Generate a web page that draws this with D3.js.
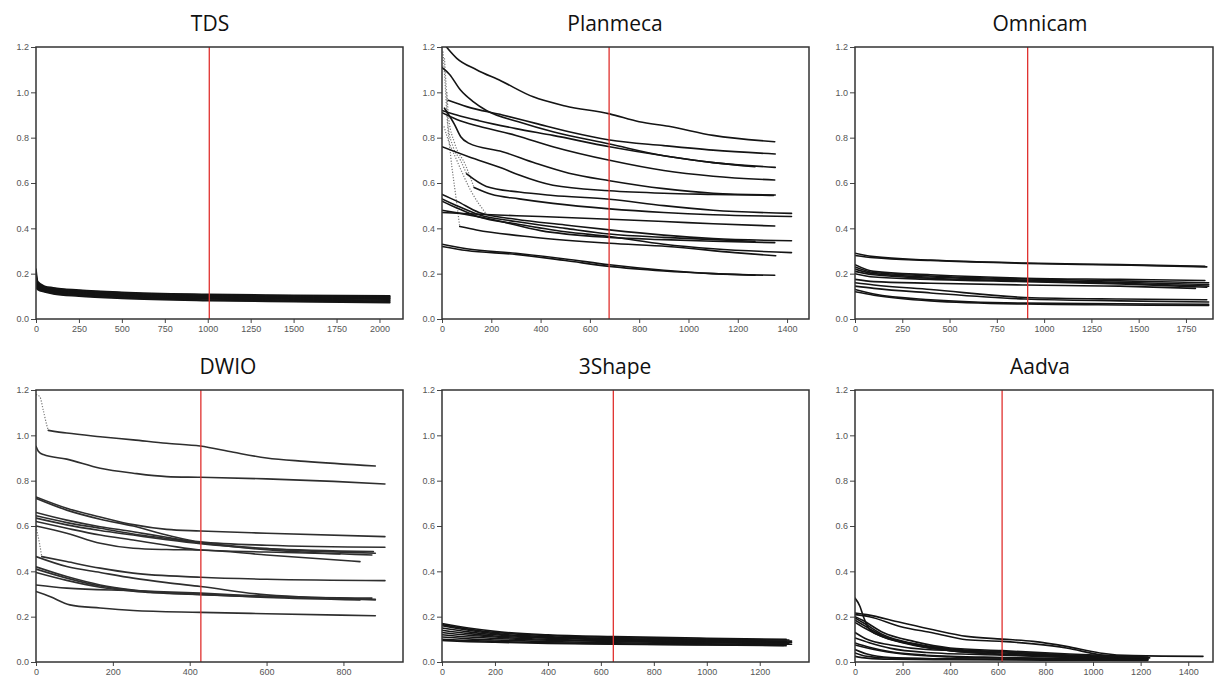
<!DOCTYPE html>
<html>
<head>
<meta charset="utf-8">
<script src="https://cdn.jsdelivr.net/npm/d3@7"></script>
<style>
  body { margin: 0; background: #fff; }
  .tick text { font-family: "Liberation Sans", Arial, sans-serif; font-size: 9px; fill: #555; }
  .tick line { stroke: #444; }
  .title { font-family: "Open Sans", "Noto Sans", sans-serif; font-size: 21px; fill: #111; }
</style>
</head>
<body>
<div id="chart"></div>
<script>
// ---- data: each line is a list of [time, value] points ----
const yTicks = [0, 0.2, 0.4, 0.6, 0.8, 1.0, 1.2];

const tdsTicks = [0, 250, 500, 750, 1000, 1250, 1500, 1750, 2000];
const tdsLines = [
  [[0,0.22],[10,0.165],[50,0.145],[100,0.138],[250,0.128],[500,0.118],[1000,0.109],[1500,0.105],[2060,0.102]],
  [[0,0.2],[10,0.16],[50,0.142],[100,0.135],[250,0.125],[500,0.115],[1000,0.106],[1500,0.102],[2060,0.099]],
  [[0,0.19],[10,0.155],[50,0.14],[100,0.132],[250,0.122],[500,0.112],[1000,0.103],[1500,0.099],[2060,0.096]],
  [[0,0.18],[10,0.15],[50,0.137],[100,0.129],[250,0.119],[500,0.109],[1000,0.1],[1500,0.096],[2060,0.093]],
  [[0,0.17],[10,0.146],[50,0.134],[100,0.126],[250,0.116],[500,0.106],[1000,0.097],[1500,0.093],[2060,0.09]],
  [[0,0.16],[10,0.142],[50,0.131],[100,0.123],[250,0.113],[500,0.103],[1000,0.094],[1500,0.09],[2060,0.087]],
  [[0,0.155],[10,0.139],[50,0.128],[100,0.12],[250,0.11],[500,0.1],[1000,0.091],[1500,0.087],[2060,0.083]],
  [[0,0.15],[10,0.136],[50,0.125],[100,0.117],[250,0.107],[500,0.097],[1000,0.088],[1500,0.083],[2060,0.079]],
  [[0,0.145],[10,0.133],[50,0.122],[100,0.114],[250,0.104],[500,0.094],[1000,0.084],[1500,0.079],[2060,0.075]],
  [[0,0.14],[10,0.13],[50,0.119],[100,0.111],[250,0.101],[500,0.091],[1000,0.081],[1500,0.076],[2060,0.072]]
];
const tdsCutoff = 1009;

const planmecaTicks = [0, 200, 400, 600, 800, 1000, 1200, 1400];
const planmecaLines = [
  [[18,1.2],[60,1.15],[140,1.1],[240,1.05],[370,0.98],[500,0.94],[680,0.905],[800,0.87],[920,0.85],[1100,0.81],[1350,0.782]],
  [[0,1.11],[30,1.08],[75,1.01],[125,0.96],[180,0.92],[310,0.87],[450,0.826],[680,0.772],[900,0.72],[1100,0.69],[1270,0.672]],
  [[25,0.965],[100,0.937],[245,0.9],[380,0.863],[515,0.826],[680,0.79],[900,0.765],[1100,0.745],[1352,0.728]],
  [[0,0.92],[60,0.9],[150,0.875],[300,0.84],[450,0.81],[680,0.76],[900,0.72],[1100,0.69],[1352,0.669]],
  [[10,0.93],[50,0.86],[76,0.804],[108,0.776],[245,0.738],[380,0.687],[515,0.643],[680,0.61],[900,0.575],[1100,0.555],[1352,0.547]],
  [[0,0.91],[60,0.88],[150,0.85],[300,0.81],[450,0.76],[680,0.7],[900,0.655],[1100,0.63],[1350,0.613]],
  [[0,0.76],[108,0.716],[245,0.665],[313,0.635],[450,0.59],[680,0.566],[900,0.555],[1100,0.55],[1345,0.545]],
  [[100,0.64],[180,0.585],[313,0.56],[450,0.545],[680,0.528],[900,0.5],[1100,0.48],[1418,0.466]],
  [[130,0.58],[200,0.55],[313,0.53],[450,0.51],[680,0.486],[900,0.47],[1100,0.46],[1418,0.452]],
  [[0,0.47],[150,0.462],[400,0.452],[680,0.44],[900,0.43],[1100,0.42],[1350,0.41]],
  [[0,0.55],[60,0.52],[150,0.47],[300,0.44],[500,0.415],[680,0.393],[900,0.37],[1100,0.355],[1418,0.345]],
  [[0,0.53],[60,0.5],[150,0.46],[300,0.43],[500,0.4],[680,0.375],[900,0.36],[1100,0.35],[1270,0.343]],
  [[0,0.52],[60,0.49],[150,0.45],[300,0.42],[500,0.385],[680,0.364],[900,0.33],[1100,0.31],[1418,0.293]],
  [[0,0.48],[80,0.465],[200,0.44],[400,0.39],[680,0.36],[900,0.35],[1100,0.343],[1350,0.337]],
  [[72,0.408],[140,0.393],[371,0.361],[680,0.334],[916,0.32],[1188,0.293],[1354,0.279]],
  [[0,0.33],[100,0.31],[300,0.29],[500,0.265],[680,0.239],[900,0.215],[1100,0.2],[1350,0.193]],
  [[0,0.32],[100,0.302],[300,0.285],[500,0.258],[680,0.232],[900,0.212],[1100,0.2],[1270,0.193]]
];
const planmecaDotted = [
  [[4,1.18],[12,1.05],[20,0.9],[35,0.72],[55,0.55],[72,0.408]],
  [[10,1.15],[18,1.0],[25,0.85],[45,0.76],[75,0.7],[100,0.64]],
  [[20,1.0],[28,0.88],[50,0.78],[95,0.68],[130,0.58]],
  [[8,0.85],[22,0.8],[60,0.7],[120,0.56],[177,0.467]]
];
const planmecaCutoff = 678;

const omnicamTicks = [0, 250, 500, 750, 1000, 1250, 1500, 1750];
const omnicamLines = [
  [[0,0.29],[100,0.275],[400,0.26],[900,0.247],[1400,0.24],[1850,0.232]],
  [[0,0.28],[100,0.27],[400,0.258],[900,0.245],[1400,0.238],[1860,0.23]],
  [[0,0.24],[100,0.21],[400,0.195],[900,0.18],[1400,0.175],[1850,0.17]],
  [[0,0.23],[100,0.205],[400,0.19],[900,0.177],[1400,0.168],[1870,0.16]],
  [[0,0.22],[100,0.2],[400,0.185],[900,0.172],[1400,0.162],[1870,0.152]],
  [[0,0.21],[100,0.195],[400,0.18],[900,0.168],[1400,0.158],[1870,0.145]],
  [[0,0.2],[100,0.185],[400,0.175],[900,0.165],[1400,0.155],[1860,0.14]],
  [[0,0.175],[100,0.165],[400,0.158],[900,0.15],[1400,0.145],[1800,0.135]],
  [[0,0.16],[100,0.15],[400,0.13],[900,0.095],[1400,0.088],[1860,0.085]],
  [[0,0.145],[100,0.135],[400,0.115],[900,0.088],[1400,0.08],[1870,0.075]],
  [[0,0.13],[100,0.11],[400,0.085],[900,0.07],[1400,0.067],[1870,0.065]],
  [[0,0.12],[100,0.105],[400,0.08],[900,0.066],[1400,0.062],[1870,0.06]]
];
const omnicamCutoff = 913;

const dwioTicks = [0, 200, 400, 600, 800];
const dwioLines = [
  [[32,1.022],[80,1.01],[167,0.994],[253,0.98],[340,0.965],[427,0.953],[514,0.925],[600,0.9],[700,0.885],[883,0.865]],
  [[0,0.952],[6,0.93],[19,0.915],[80,0.895],[167,0.855],[253,0.833],[340,0.818],[427,0.815],[600,0.808],[774,0.797],[908,0.785]],
  [[0,0.728],[80,0.678],[167,0.64],[253,0.606],[340,0.585],[428,0.578],[600,0.568],[908,0.553]],
  [[0,0.722],[80,0.67],[167,0.63],[253,0.6],[340,0.56],[428,0.53],[600,0.515],[908,0.506]],
  [[0,0.66],[80,0.626],[167,0.597],[253,0.575],[340,0.55],[428,0.527],[600,0.5],[883,0.48]],
  [[0,0.645],[80,0.615],[167,0.59],[253,0.565],[340,0.545],[428,0.525],[600,0.495],[874,0.472]],
  [[0,0.635],[80,0.605],[167,0.58],[253,0.56],[340,0.54],[428,0.522],[600,0.5],[878,0.487]],
  [[0,0.62],[80,0.59],[167,0.56],[253,0.538],[340,0.515],[428,0.494],[600,0.485],[791,0.477]],
  [[0,0.6],[80,0.568],[167,0.524],[253,0.502],[340,0.496],[428,0.494],[600,0.472],[843,0.443]],
  [[15,0.465],[80,0.443],[167,0.414],[253,0.392],[428,0.374],[600,0.365],[908,0.359]],
  [[0,0.465],[80,0.421],[167,0.395],[253,0.37],[340,0.35],[428,0.333],[600,0.296],[883,0.277]],
  [[0,0.42],[80,0.377],[167,0.34],[253,0.318],[428,0.3],[600,0.289],[874,0.282]],
  [[0,0.41],[80,0.37],[167,0.335],[253,0.315],[428,0.298],[600,0.285],[843,0.274]],
  [[0,0.395],[80,0.36],[167,0.33],[253,0.312],[428,0.297],[600,0.287],[791,0.282]],
  [[0,0.34],[80,0.326],[253,0.315],[428,0.304],[600,0.29],[883,0.274]],
  [[0,0.311],[36,0.289],[88,0.252],[167,0.238],[253,0.227],[428,0.219],[600,0.213],[883,0.204]]
];
const dwioDotted = [
  [[0,1.18],[10,1.17],[19,1.11],[28,1.045],[32,1.022]],
  [[0,0.597],[9,0.524],[15,0.465]]
];
const dwioCutoff = 429;

const shapeTicks = [0, 200, 400, 600, 800, 1000, 1200];
const shapeLines = [
  [[0,0.17],[100,0.15],[200,0.135],[400,0.12],[650,0.112],[1000,0.105],[1300,0.1]],
  [[0,0.165],[100,0.145],[200,0.13],[400,0.117],[650,0.108],[1000,0.1],[1310,0.097]],
  [[0,0.16],[100,0.14],[200,0.125],[400,0.112],[650,0.104],[1000,0.097],[1320,0.092]],
  [[0,0.15],[100,0.133],[200,0.12],[400,0.108],[650,0.1],[1000,0.094],[1300,0.09]],
  [[0,0.14],[100,0.125],[200,0.115],[400,0.105],[650,0.097],[1000,0.09],[1320,0.086]],
  [[0,0.13],[100,0.118],[200,0.11],[400,0.1],[650,0.093],[1000,0.088],[1310,0.083]],
  [[0,0.12],[100,0.11],[200,0.104],[400,0.096],[650,0.09],[1000,0.085],[1300,0.08]],
  [[0,0.11],[100,0.102],[200,0.097],[400,0.09],[650,0.085],[1000,0.08],[1320,0.078]],
  [[0,0.1],[100,0.095],[200,0.091],[400,0.085],[650,0.08],[1000,0.076],[1290,0.073]],
  [[0,0.095],[100,0.09],[200,0.087],[400,0.082],[650,0.078],[1000,0.075],[1300,0.072]]
];
const shapeCutoff = 647;

const aadvaTicks = [0, 200, 400, 600, 800, 1000, 1200, 1400];
const aadvaLines = [
  [[0,0.216],[49,0.209],[189,0.175],[329,0.142],[469,0.113],[618,0.101],[748,0.091],[888,0.069],[1028,0.04],[1168,0.028],[1462,0.025]],
  [[0,0.209],[60,0.2],[189,0.157],[329,0.128],[469,0.098],[618,0.091],[750,0.08],[888,0.062],[1028,0.032],[1150,0.022],[1238,0.018]],
  [[0,0.282],[21,0.245],[35,0.201],[63,0.142],[120,0.11],[250,0.08],[400,0.058],[618,0.045],[900,0.03],[1211,0.02]],
  [[0,0.194],[40,0.17],[118,0.12],[250,0.08],[399,0.054],[618,0.04],[900,0.028],[1211,0.018]],
  [[0,0.185],[40,0.16],[118,0.115],[250,0.075],[399,0.05],[618,0.035],[900,0.025],[1230,0.015]],
  [[0,0.175],[40,0.15],[118,0.11],[250,0.073],[399,0.05],[618,0.033],[900,0.022],[1200,0.014]],
  [[0,0.2],[30,0.185],[118,0.13],[250,0.09],[399,0.062],[618,0.05],[900,0.035],[1230,0.022]],
  [[0,0.13],[50,0.1],[150,0.075],[300,0.055],[618,0.045],[900,0.03],[1230,0.018]],
  [[0,0.106],[60,0.085],[150,0.06],[300,0.042],[618,0.03],[900,0.02],[1230,0.012]],
  [[0,0.084],[60,0.065],[150,0.045],[300,0.03],[618,0.02],[900,0.015],[1210,0.01]],
  [[0,0.075],[80,0.055],[200,0.035],[400,0.022],[618,0.018],[900,0.014],[1230,0.012]],
  [[0,0.055],[50,0.035],[150,0.02],[400,0.014],[618,0.013],[900,0.012],[1230,0.01]],
  [[0,0.04],[50,0.025],[150,0.017],[400,0.013],[900,0.01],[1200,0.008]],
  [[0,0.025],[50,0.017],[150,0.012],[400,0.01],[900,0.008],[1230,0.007]]
];
const aadvaCutoff = 618;

// ---- layout ----
const width = 1216, height = 681;
const panels = [
  { title: "TDS",      lines: tdsLines,      dotted: [],             ticks: tdsTicks,      xMax: 2137, cutoff: tdsCutoff,      left: 36,  top: 47,  w: 367, titleX: 210 },
  { title: "Planmeca", lines: planmecaLines, dotted: planmecaDotted, ticks: planmecaTicks, xMax: 1489, cutoff: planmecaCutoff, left: 442, top: 47,  w: 367, titleX: 615 },
  { title: "Omnicam",  lines: omnicamLines,  dotted: [],             ticks: omnicamTicks,  xMax: 1893, cutoff: omnicamCutoff,  left: 855, top: 47,  w: 358, titleX: 1040 },
  { title: "DWIO",     lines: dwioLines,     dotted: dwioDotted,     ticks: dwioTicks,     xMax: 955,  cutoff: dwioCutoff,     left: 36,  top: 390, w: 367, titleX: 228 },
  { title: "3Shape",   lines: shapeLines,    dotted: [],             ticks: shapeTicks,    xMax: 1386, cutoff: shapeCutoff,    left: 442, top: 390, w: 367, titleX: 615 },
  { title: "Aadva",    lines: aadvaLines,    dotted: [],             ticks: aadvaTicks,    xMax: 1504, cutoff: aadvaCutoff,    left: 855, top: 390, w: 358, titleX: 1040 }
];
const plotH = 272;

const svg = d3.select("#chart").append("svg")
  .attr("width", width)
  .attr("height", height);

panels.forEach((p, i) => {
  const x = d3.scaleLinear().domain([0, p.xMax]).range([0, p.w]);
  const y = d3.scaleLinear().domain([0, 1.2]).range([plotH, 0]);

  // title
  svg.append("text")
    .attr("class", "title")
    .attr("x", p.titleX)
    .attr("y", p.top - 16)
    .attr("text-anchor", "middle")
    .text(p.title);

  const g = svg.append("g").attr("transform", `translate(${p.left},${p.top})`);

  g.append("clipPath").attr("id", "clip" + i)
    .append("rect").attr("width", p.w).attr("height", plotH);

  const line = d3.line()
    .x(d => x(d[0]))
    .y(d => y(d[1]))
    .curve(d3.curveMonotoneX);

  const plot = g.append("g").attr("clip-path", `url(#clip${i})`);

  // grey dotted stretches where the recording is sparse
  plot.selectAll(".dot-line")
    .data(p.dotted)
    .enter()
    .append("path")
    .attr("d", line)
    .attr("fill", "none")
    .attr("stroke", "#777")
    .attr("stroke-width", 1.2)
    .attr("stroke-dasharray", "1.2,1.6");

  plot.selectAll(".run")
    .data(p.lines)
    .enter()
    .append("path")
    .attr("d", line)
    .attr("fill", "none")
    .attr("stroke", p.title === "DWIO" ? "#2e2e2e" : "#141414")
    .attr("stroke-width", 1.6)
    .attr("stroke-linecap", "round");

  // red cutoff line
  g.append("line")
    .attr("x1", x(p.cutoff)).attr("x2", x(p.cutoff))
    .attr("y1", 0).attr("y2", plotH)
    .attr("stroke", "#e0302e")
    .attr("stroke-width", 1.3);

  // axes
  g.append("g")
    .call(d3.axisLeft(y).tickValues(yTicks).tickFormat(d3.format(".1f")).tickSize(5).tickPadding(2))
    .call(a => a.select(".domain").remove());

  g.append("g")
    .attr("transform", `translate(0,${plotH})`)
    .call(d3.axisBottom(x).tickValues(p.ticks).tickFormat(d3.format("d")).tickSize(4).tickPadding(3))
    .call(a => a.select(".domain").remove());

  // frame
  g.append("rect")
    .attr("width", p.w)
    .attr("height", plotH)
    .attr("fill", "none")
    .attr("stroke", "#333")
    .attr("stroke-width", 1.5);
});
</script>
</body>
</html>
